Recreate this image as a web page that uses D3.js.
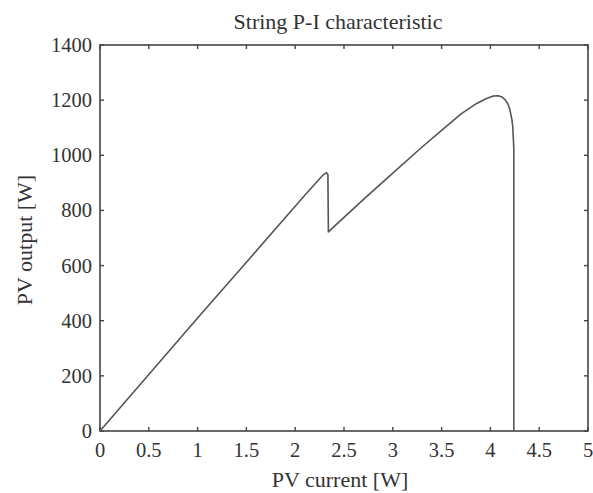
<!DOCTYPE html>
<html>
<head>
<meta charset="utf-8">
<script src="https://cdn.jsdelivr.net/npm/d3@7"></script>
<style>
html,body{margin:0;padding:0;background:#fff;}
svg text{font-family:"Liberation Serif","Times New Roman",serif;fill:#333;}
</style>
</head>
<body>
<svg id="chart" width="593" height="493"></svg>
<script>
// Data
const current = [0, 0.5, 1.0, 1.5, 2.0, 2.1, 2.2, 2.28, 2.32, 2.335, 2.34, 2.4, 2.7, 3.0, 3.3, 3.5, 3.7, 3.86, 3.96, 4.03, 4.08, 4.12, 4.15, 4.18, 4.2, 4.22, 4.23, 4.235, 4.24, 4.24];
const power   = [0, 205, 410, 612, 815, 856, 895, 927, 937, 930, 722, 742, 840, 935, 1030, 1090, 1150, 1188, 1206, 1215, 1216, 1211, 1202, 1186, 1165, 1130, 1100, 1060, 1023, 0];
const xTicks = [0, 0.5, 1, 1.5, 2, 2.5, 3, 3.5, 4, 4.5, 5];
const yTicks = [0, 200, 400, 600, 800, 1000, 1200, 1400];
const title = "String P-I characteristic";
const xLabel = "PV current [W]";
const yLabel = "PV output [W]";

const svg = d3.select("#chart");
const m = {left:100, right:5, top:45, bottom:62};
const W = 593, H = 493;
const x = d3.scaleLinear().domain([0,5]).range([m.left, W-m.right]);
const y = d3.scaleLinear().domain([0,1400]).range([H-m.bottom, m.top]);
const axisColor = "#444";
const fsTick = 20.5;
const fsLab = 22;

// frame
svg.append("rect").attr("x", x(0)).attr("y", y(1400))
  .attr("width", x(5)-x(0)).attr("height", y(0)-y(1400))
  .attr("fill","none").attr("stroke",axisColor).attr("stroke-width",1.6);

// inward ticks on all four sides
const tl = 4;
const tickG = svg.append("g").attr("stroke",axisColor).attr("stroke-width",1.4);
xTicks.forEach(t => {
  tickG.append("line").attr("x1",x(t)).attr("x2",x(t)).attr("y1",y(0)).attr("y2",y(0)-tl);
  tickG.append("line").attr("x1",x(t)).attr("x2",x(t)).attr("y1",y(1400)).attr("y2",y(1400)+tl);
});
yTicks.forEach(t => {
  tickG.append("line").attr("y1",y(t)).attr("y2",y(t)).attr("x1",x(0)).attr("x2",x(0)+tl);
  tickG.append("line").attr("y1",y(t)).attr("y2",y(t)).attr("x1",x(5)).attr("x2",x(5)-tl);
});

// tick labels
svg.append("g").selectAll("text").data(xTicks).join("text")
  .attr("x", d => x(d)).attr("y", y(0)+26)
  .attr("text-anchor","middle").attr("font-size",fsTick)
  .text(d => d3.format("")(d));
svg.append("g").selectAll("text").data(yTicks).join("text")
  .attr("x", x(0)-8).attr("y", d => y(d)+7)
  .attr("text-anchor","end").attr("font-size",fsTick)
  .text(d => d);

// curve
const pts = current.map((c,i)=>[c, power[i]]);
svg.append("path").datum(pts)
  .attr("fill","none").attr("stroke","#555").attr("stroke-width",1.6)
  .attr("stroke-linejoin","round")
  .attr("d", d3.line().x(d=>x(d[0])).y(d=>y(d[1])).curve(d3.curveLinear));

// title and labels
svg.append("text").attr("x", 338).attr("y", 29)
  .attr("text-anchor","middle").attr("font-size",fsLab).text(title);
svg.append("text").attr("x", 340).attr("y", 487)
  .attr("text-anchor","middle").attr("font-size",fsLab).text(xLabel);
svg.append("text").attr("transform", `translate(32,${(y(0)+y(1400))/2 + 2}) rotate(-90)`)
  .attr("text-anchor","middle").attr("font-size",fsLab).text(yLabel);
</script>
</body>
</html>
